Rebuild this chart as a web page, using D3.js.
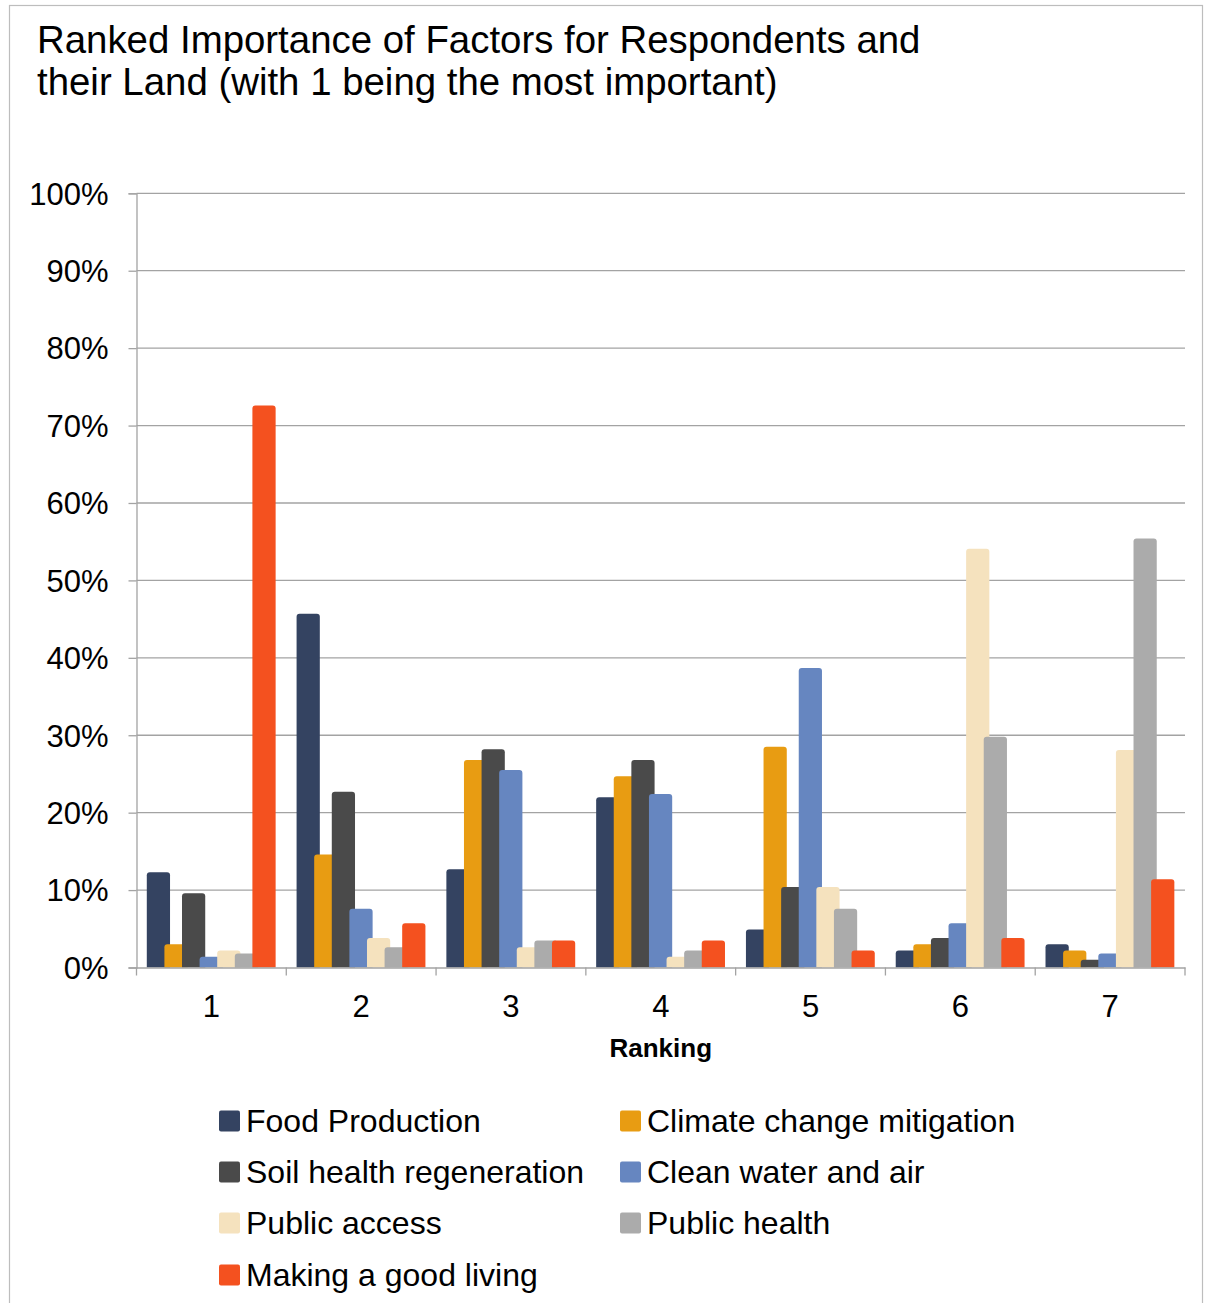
<!DOCTYPE html>
<html>
<head>
<meta charset="utf-8">
<script src="https://cdn.jsdelivr.net/npm/d3@7"></script>
<style>
  html, body { margin: 0; padding: 0; background: #ffffff; }
  svg { display: block; font-family: "Liberation Sans", Arial, sans-serif; }
</style>
</head>
<body>
<svg id="chart" width="1206" height="1303"></svg>
<script>
// Ranking positions on the x axis
const rankings = ["1", "2", "3", "4", "5", "6", "7"];

// Factor names (legend order)
const factors = [
  "Food Production",
  "Climate change mitigation",
  "Soil health regeneration",
  "Clean water and air",
  "Public access",
  "Public health",
  "Making a good living"
];

// Share of respondents giving each rank (percent), one array per factor
const foodProduction   = [12.3, 45.7, 12.7, 22.0,  4.9,  2.2,  3.0];
const climateChange    = [ 3.0, 14.6, 26.8, 24.7, 28.5,  3.0,  2.2];
const soilHealth       = [ 9.6, 22.7, 28.2, 26.8, 10.4,  3.8,  1.0];
const cleanWaterAir    = [ 1.4,  7.6, 25.5, 22.4, 38.7,  5.7,  1.8];
const publicAccess     = [ 2.2,  3.8,  2.6,  1.4, 10.4, 54.1, 28.1];
const publicHealth     = [ 1.8,  2.6,  3.5,  2.2,  7.6, 29.8, 55.4];
const makingLiving     = [72.6,  5.7,  3.5,  3.5,  2.2,  3.8, 11.4];

const seriesValues = [foodProduction, climateChange, soilHealth, cleanWaterAir,
                      publicAccess, publicHealth, makingLiving];

const colors = ["#344361", "#E89C12", "#4A4A4A", "#6686C0", "#F5E2BE", "#ABABAB", "#F4511F"];

// Y axis tick values
const yTicks = [0, 10, 20, 30, 40, 50, 60, 70, 80, 90, 100];

const svg = d3.select("#chart");

// outer frame
svg.append("rect")
  .attr("x", 9.5).attr("y", 5.5)
  .attr("width", 1193).attr("height", 1310)
  .attr("fill", "#ffffff")
  .attr("stroke", "#BDBDBD").attr("stroke-width", 1.2);

// title
const title = svg.append("text")
  .attr("x", 37).attr("y", 53)
  .attr("font-size", 38.4).attr("fill", "#000");
title.append("tspan").attr("x", 37).attr("y", 53)
  .text("Ranked Importance of Factors for Respondents and");
title.append("tspan").attr("x", 37).attr("y", 95)
  .text("their Land (with 1 being the most important)");

const plot = { left: 136.5, right: 1185, top: 193.3, bottom: 967.5 };

const y = d3.scaleLinear().domain([0, 100]).range([plot.bottom, plot.top]);
const x0 = d3.scaleBand().domain(rankings).range([plot.left, plot.right]).padding(0);
const pad = 10.3;
const x1 = d3.scaleBand().domain(factors).range([pad, pad + 123.2]).padding(0);
const barW = x1.bandwidth() * 1.32;

// horizontal gridlines
svg.append("g")
  .selectAll("line")
  .data(yTicks.filter(t => t > 0))
  .join("line")
  .attr("x1", plot.left).attr("x2", plot.right)
  .attr("y1", d => y(d)).attr("y2", d => y(d))
  .attr("stroke", "#A3A3A3").attr("stroke-width", 1.3);

// y axis
const yAxis = svg.append("g")
  .attr("transform", `translate(${plot.left},0)`)
  .call(d3.axisLeft(y).tickValues(yTicks).tickSize(8).tickPadding(20)
    .tickFormat(d => d + "%"));
yAxis.select(".domain").attr("stroke", "#A3A3A3").attr("stroke-width", 1.3);
yAxis.selectAll(".tick line").attr("stroke", "#A3A3A3").attr("stroke-width", 1.3);
yAxis.selectAll(".tick text")
  .attr("font-size", 31).attr("fill", "#000")
  .attr("font-family", "'Liberation Sans', Arial, sans-serif")
  .attr("dy", "0.35em");

// rounded-top bar path
function barPath(x, yTop, w, yBase) {
  const r = Math.min(3, (yBase - yTop) / 2, w / 2);
  return `M${x},${yBase}V${yTop + r}Q${x},${yTop} ${x + r},${yTop}` +
         `H${x + w - r}Q${x + w},${yTop} ${x + w},${yTop + r}V${yBase}Z`;
}

// bars: later series drawn over earlier ones within each group
const barsG = svg.append("g");
factors.forEach((f, si) => {
  barsG.append("g")
    .attr("fill", colors[si])
    .selectAll("path")
    .data(seriesValues[si].map((v, ri) => ({ rank: rankings[ri], v })))
    .join("path")
    .attr("d", d => barPath(x0(d.rank) + x1(f), y(d.v), barW, y(0)));
});

// x axis
const xAxis = svg.append("g")
  .attr("transform", `translate(0,${plot.bottom})`)
  .call(d3.axisBottom(x0).tickSize(0).tickPadding(27));
xAxis.select(".domain").attr("stroke", "#A3A3A3").attr("stroke-width", 1.3);
xAxis.selectAll(".tick text")
  .attr("font-size", 31).attr("fill", "#000")
  .attr("font-family", "'Liberation Sans', Arial, sans-serif");
// category separator ticks
xAxis.append("g")
  .selectAll("line")
  .data(rankings.map(r => x0(r)).concat([plot.right]))
  .join("line")
  .attr("x1", d => d).attr("x2", d => d)
  .attr("y1", 0).attr("y2", 8)
  .attr("stroke", "#A3A3A3").attr("stroke-width", 1.3);

// x axis title
svg.append("text")
  .attr("x", (plot.left + plot.right) / 2).attr("y", 1057)
  .attr("text-anchor", "middle")
  .attr("font-size", 26).attr("font-weight", "bold").attr("fill", "#000")
  .text("Ranking");

// legend
const legend = svg.append("g");
const legendCols = [219, 620];
const legendRows = [1121, 1172, 1223, 1275];
factors.forEach((f, i) => {
  const col = i % 2, row = Math.floor(i / 2);
  const g = legend.append("g")
    .attr("transform", `translate(${legendCols[col]},${legendRows[row]})`);
  g.append("rect")
    .attr("x", 0).attr("y", -10.5).attr("width", 21).attr("height", 21)
    .attr("rx", 2).attr("fill", colors[i]);
  g.append("text")
    .attr("x", 27).attr("y", 0).attr("dy", "0.35em")
    .attr("font-size", 32).attr("fill", "#000")
    .text(f);
});
</script>
</body>
</html>
